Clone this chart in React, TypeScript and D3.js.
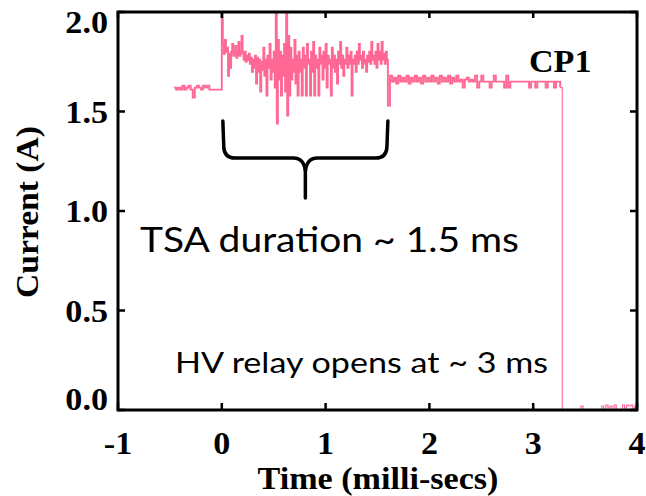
import React from "react";
import * as d3 from "d3";

// ---- data ----
const xTicks = [-1, 0, 1, 2, 3, 4];
const yTicks = [0, 0.5, 1, 1.5, 2];
const yTickLabels = ["0.0", "0.5", "1.0", "1.5", "2.0"];

// pre-trigger level, sampled every 0.02 ms from -0.46 ms
const preStart = -0.46;
const preStep = 0.02;
const preValues = [1.62, 1.61, 1.62, 1.61, 1.63, 1.61, 1.62, 1.63, 1.61, 1.57, 1.62, 1.63, 1.62, 1.61, 1.63, 1.62, 1.63, 1.61, 1.61, 1.61, 1.61, 1.61, 1.61];

// TSA burst, sampled every 0.01 ms from 0 ms
const tsaStart = 0;
const tsaStep = 0.01;
const tsaValues = [
  2.0, 1.84, 1.79, 1.86, 1.8, 1.82, 1.68, 1.79, 1.72, 1.8,
  1.84, 1.78, 1.8, 1.83, 1.77, 1.79, 1.85, 1.78, 1.8, 1.88,
  1.79, 1.76, 1.8, 1.75, 1.78, 1.76, 1.79, 1.74, 1.77, 1.7,
  1.76, 1.72, 1.78, 1.64, 1.77, 1.7, 1.76, 1.6, 1.75, 1.71,
  1.82, 1.68, 1.76, 1.58, 1.78, 1.72, 1.84, 1.66, 1.76, 1.7,
  1.8, 1.62, 2.0, 1.44, 1.86, 1.66, 1.8, 1.58, 1.78, 1.68,
  1.84, 1.6, 2.0, 1.48, 1.88, 1.58, 1.82, 1.66, 1.76, 1.7,
  1.86, 1.64, 1.78, 1.58, 1.8, 1.7, 1.76, 1.58, 1.82, 1.72,
  1.78, 1.58, 1.84, 1.74, 1.76, 1.58, 1.8, 1.7, 1.85, 1.58,
  1.78, 1.72, 1.76, 1.58, 1.82, 1.74, 1.78, 1.66, 1.8, 1.72,
  1.84, 1.62, 1.78, 1.74, 1.76, 1.58, 1.82, 1.72, 1.78, 1.7,
  1.76, 1.64, 1.8, 1.74, 1.85, 1.72, 1.78, 1.68, 1.76, 1.74,
  1.82, 1.72, 1.78, 1.74, 1.8, 1.58, 1.76, 1.74, 1.78, 1.7,
  1.8, 1.74, 1.84, 1.76, 1.78, 1.72, 1.8, 1.74, 1.76, 1.7,
  1.78, 1.75, 1.8, 1.74, 1.85, 1.76, 1.78, 1.74, 1.8, 1.72,
  1.84, 1.76, 1.8, 1.74, 1.85, 1.76, 1.79, 1.74, 1.8, 1.76,
  1.53,
];

// post-TSA level, sampled every 0.02 ms from 1.62 ms
const postStart = 1.62;
const postStep = 0.02;
const postValues = [
  1.68, 1.65, 1.67, 1.64, 1.68, 1.65, 1.67, 1.65, 1.68, 1.64,
  1.67, 1.65, 1.68, 1.65, 1.67, 1.64, 1.68, 1.65, 1.67, 1.65,
  1.68, 1.65, 1.67, 1.64, 1.68, 1.65, 1.67, 1.65, 1.68, 1.64,
  1.67, 1.65, 1.68, 1.65, 1.66, 1.62, 1.66, 1.67, 1.65, 1.66,
  1.65, 1.68, 1.62, 1.65, 1.68, 1.65, 1.65, 1.65, 1.62, 1.65,
  1.68, 1.65, 1.65, 1.65, 1.65, 1.62, 1.68, 1.62, 1.65, 1.65,
  1.65, 1.65, 1.65, 1.65, 1.65, 1.65, 1.65, 1.62, 1.65, 1.65,
  1.62, 1.65, 1.65, 1.65, 1.65, 1.62, 1.65, 1.65, 1.65, 1.62,
  1.65, 1.65, 1.62,
];

// after relay opens, sampled every 0.02 ms from 3.28 ms
const offStart = 3.28;
const offStep = 0.02;
const offValues = [
  0, 0, 0, 0, 0, 0, 0, 0, 0, 0.02,
  0, 0, 0, 0, 0, 0, 0, 0, 0, 0.02,
  0, 0.025, 0.01, 0.02, 0, 0.025, 0, 0, 0, 0.025,
  0.01, 0.025, 0.02, 0.025, 0.01, 0.02, 0,
];

type Pt = { t: number; v: number };
const seg = (start: number, step: number, vals: number[]): Pt[] =>
  vals.map((v, i) => ({ t: start + i * step, v }));

const onSeries: Pt[] = [
  ...seg(preStart, preStep, preValues),
  ...seg(tsaStart, tsaStep, tsaValues),
  ...seg(postStart, postStep, postValues),
];
const offSeries: Pt[] = [
  onSeries[onSeries.length - 1],
  ...seg(offStart, offStep, offValues),
];

const W = 646;
const H = 496;
const L = 118;
const R = 637;
const T = 12;
const B = 410;

const serif = "'Liberation Serif', 'Times New Roman', serif";
const sans = "Lato, 'Open Sans', sans-serif";
const SX = 1.1;
const FS = 31;

export default function App() {
  const x = d3.scaleLinear().domain([-1, 4]).range([L, R]);
  const y = d3.scaleLinear().domain([0, 2]).range([B, T]);
  const line = d3
    .line<Pt>()
    .x((d) => x(d.t))
    .y((d) => y(d.v))
    .curve(d3.curveStepAfter);
  const pathOn = line(onSeries) || "";
  const pathOff = line(offSeries) || "";

  // brace geometry from axis positions
  const bL = x(0.01);
  const bR = x(1.6);
  const bM = (bL + bR) / 2;
  const bTop = 121;
  const bH = 158;
  const bTip = 198;
  const brace =
    `M${bL},${bTop} L${bL + 1},${bH - 10} Q${bL + 2},${bH} ${bL + 12},${bH} ` +
    `L${bM - 12},${bH} Q${bM - 1},${bH} ${bM},${bH + 14} L${bM},${bTip} ` +
    `M${bR},${bTop} L${bR - 1},${bH - 10} Q${bR - 2},${bH} ${bR - 12},${bH} ` +
    `L${bM + 12},${bH} Q${bM + 1},${bH} ${bM},${bH + 14}`;

  return (
    <svg
      width={W}
      height={H}
      style={{ position: "absolute", left: 0, top: 0, background: "#fff" }}
    >
      <rect x={0} y={0} width={W} height={H} fill="#fff" />
      <path d={pathOn} fill="none" stroke="#ff6894" strokeWidth={1.9} />
      <path d={pathOff} fill="none" stroke="#ff6894" strokeWidth={1.1} />

      {/* frame */}
      <rect x={L} y={T} width={R - L} height={B - T} fill="none" stroke="#000" strokeWidth={3} />
      {xTicks.map((t) => (
        <g key={"xt" + t}>
          <line x1={x(t)} x2={x(t)} y1={B} y2={B - 7} stroke="#000" strokeWidth={2.5} />
          <line x1={x(t)} x2={x(t)} y1={T} y2={T + 6} stroke="#000" strokeWidth={2.5} />
          <g transform={`translate(${x(t)},454) scale(${SX},1)`}>
            <text textAnchor="middle" fontFamily={serif} fontWeight="bold" fontSize={FS} fill="#000">
              {String(t)}
            </text>
          </g>
        </g>
      ))}
      {yTicks.map((v, i) => (
        <g key={"yt" + v}>
          <line x1={L} x2={L + 7} y1={y(v)} y2={y(v)} stroke="#000" strokeWidth={2.5} />
          <line x1={R} x2={R - 7} y1={y(v)} y2={y(v)} stroke="#000" strokeWidth={2.5} />
          <g transform={`translate(108,${Math.min(410, Math.max(33, y(v) + 11))}) scale(${SX},1)`}>
            <text textAnchor="end" fontFamily={serif} fontWeight="bold" fontSize={FS} fill="#000">
              {yTickLabels[i]}
            </text>
          </g>
        </g>
      ))}

      {/* axis titles */}
      <g transform={`translate(378,489) scale(${SX},1)`}>
        <text textAnchor="middle" fontFamily={serif} fontWeight="bold" fontSize={FS} fill="#000">
          Time (milli-secs)
        </text>
      </g>
      <g transform={`translate(38,212) rotate(-90) scale(1.05,1)`}>
        <text textAnchor="middle" fontFamily={serif} fontWeight="bold" fontSize={32} fill="#000">
          Current (A)
        </text>
      </g>
      <g transform={`translate(529,72) scale(${SX},1)`}>
        <text textAnchor="start" fontFamily={serif} fontWeight="bold" fontSize={FS} fill="#000">
          CP1
        </text>
      </g>

      {/* annotations */}
      <path d={brace} fill="none" stroke="#000" strokeWidth={3.5} strokeLinecap="round" strokeLinejoin="round" />
      <text
        x={140}
        y={252}
        fontFamily={sans}
        fontSize={34}
        fill="#000"
        textLength={379}
        lengthAdjust="spacingAndGlyphs"
      >
        TSA duration ~ 1.5 ms
      </text>
      <text
        x={175}
        y={373}
        fontFamily={sans}
        fontSize={28}
        fill="#000"
        textLength={373}
        lengthAdjust="spacingAndGlyphs"
      >
        HV relay opens at ~ 3 ms
      </text>
    </svg>
  );
}
